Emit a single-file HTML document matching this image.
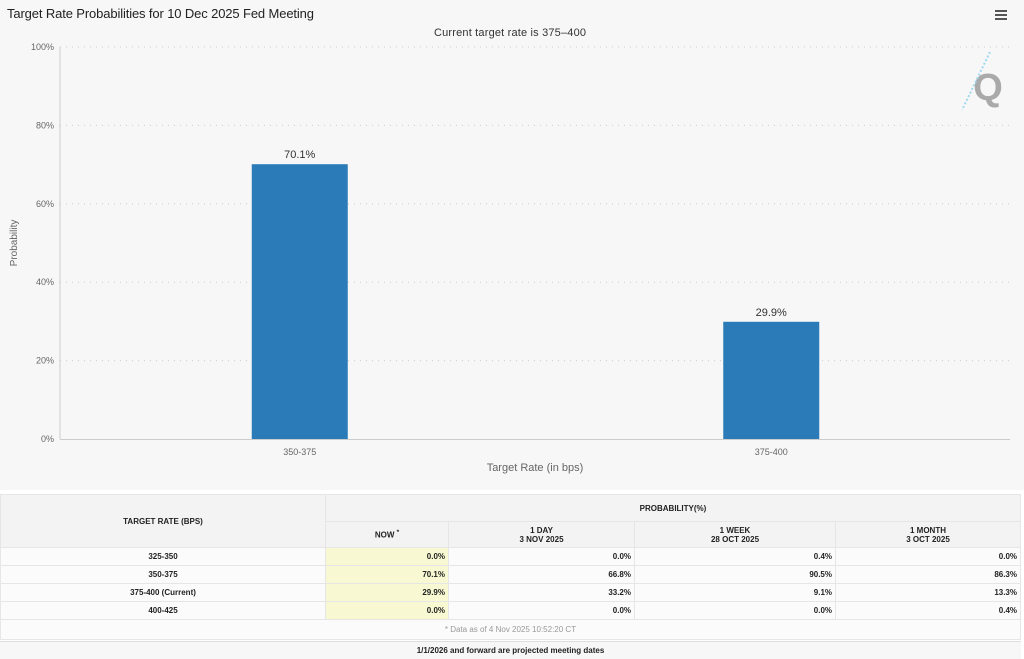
<!DOCTYPE html>
<html><head><meta charset="utf-8"><style>
body{margin:0;width:1024px;height:659px;background:#fff;font-family:"Liberation Sans",sans-serif;overflow:hidden;position:relative}
#chart{position:absolute;left:0;top:0;width:1024px;height:490px;background:#f7f7f7}
table{position:absolute;left:0;top:494px;width:1021px;border-collapse:collapse;font-size:8px;font-weight:bold;color:#222;background:#fbfbfb}
td{border:1px solid #e6e6e6;padding:0 3px;height:17px}
.hd{background:#f3f3f3;text-align:center}
.num{text-align:right}
.now{background:#f8f8d2}
.c{text-align:center}
#foot{position:absolute;left:0;top:641px;width:1021px;height:17px;line-height:17px;text-align:center;font-size:8px;font-weight:bold;color:#222;background:#f7f7f7;border-top:1px solid #ddd}
</style></head><body>
<svg id="chart" width="1024" height="490" xmlns="http://www.w3.org/2000/svg">
<rect width="1024" height="490" fill="#f7f7f7"/>
<text x="7" y="18" font-size="13" fill="#222" font-family="Liberation Sans" textLength="307">Target Rate Probabilities for 10 Dec 2025 Fed Meeting</text>
<text x="510" y="36" font-size="11" fill="#333" text-anchor="middle" font-family="Liberation Sans" textLength="152">Current target rate is 375–400</text>
<g><rect x="995" y="10" width="12" height="2" fill="#555"/><rect x="995" y="14" width="12" height="2" fill="#555"/><rect x="995" y="18" width="12" height="2" fill="#555"/></g>
<g><text x="988" y="100" font-size="38" fill="#aaa" text-anchor="middle" font-weight="bold" font-family="Liberation Sans">Q</text><line x1="990" y1="52" x2="962" y2="110" stroke="#9fd8ef" stroke-width="2" stroke-dasharray="2,2"/></g>
<g id="grid"></g><g id="bars"></g>
<line x1="60" y1="47" x2="60" y2="439" stroke="#ccc"/>
<line x1="60" y1="439.5" x2="1010" y2="439.5" stroke="#ccc"/>
<text x="17" y="243" font-size="10" fill="#666" text-anchor="middle" transform="rotate(-90 17 243)">Probability</text>
<text x="535" y="471" font-size="11" fill="#666" text-anchor="middle">Target Rate (in bps)</text>
</svg>
<table>
<tr><td class="hd" rowspan="2" style="width:318px;height:52px">TARGET RATE (BPS)</td><td class="hd" colspan="4" style="height:26px">PROBABILITY(%)</td></tr>
<tr><td class="hd" style="width:116px;height:25px">NOW <sup>*</sup></td><td class="hd" style="width:179px">1 DAY<br>3 NOV 2025</td><td class="hd" style="width:194px">1 WEEK<br>28 OCT 2025</td><td class="hd">1 MONTH<br>3 OCT 2025</td></tr>
<tr><td class="c">325-350</td><td class="num now">0.0%</td><td class="num">0.0%</td><td class="num">0.4%</td><td class="num">0.0%</td></tr>
<tr><td class="c">350-375</td><td class="num now">70.1%</td><td class="num">66.8%</td><td class="num">90.5%</td><td class="num">86.3%</td></tr>
<tr><td class="c">375-400 (Current)</td><td class="num now">29.9%</td><td class="num">33.2%</td><td class="num">9.1%</td><td class="num">13.3%</td></tr>
<tr><td class="c">400-425</td><td class="num now">0.0%</td><td class="num">0.0%</td><td class="num">0.0%</td><td class="num">0.4%</td></tr>
<tr><td colspan="5" class="c" style="font-weight:normal;color:#999;height:19px">* Data as of 4 Nov 2025 10:52:20 CT</td></tr>
</table>
<div id="foot">1/1/2026 and forward are projected meeting dates</div>
<script>
const categories=["350-375","375-400"];
const values=[70.1,29.9];
const yTicks=[0,20,40,60,80,100];
const NS="http://www.w3.org/2000/svg";
const L=60,R=1010,T=47,B=439;
const XL=64,XR=1007;
function y(v){return B-(v/100)*(B-T);}
function xc(i){return XL+(XR-XL)/categories.length*(i+0.5);}
function mk(t,a,p){const e=document.createElementNS(NS,t);for(const k in a)e.setAttribute(k,a[k]);p.appendChild(e);return e;}
const g=document.getElementById('grid'),b=document.getElementById('bars');
yTicks.forEach(t=>{
 if(t>0){const l=mk('line',{x1:L,x2:R,y1:y(t),y2:y(t),stroke:'#ccc','stroke-dasharray':'1,5'},g);
 
 }
 const tx=mk('text',{x:L-6,y:y(t)+3,'font-size':9,fill:'#666','text-anchor':'end'},g);tx.textContent=t+'%';
 
 
});
categories.forEach((c,i)=>{
 const r=mk('rect',{x:xc(i)-48,y:y(values[i]),width:96,height:B-y(values[i]),fill:'#2b7bb9'},b);
 
 
 const lb=mk('text',{x:xc(i),y:y(values[i])-6,'font-size':11,fill:'#333','text-anchor':'middle'},b);lb.textContent=values[i].toFixed(1)+'%';
 
 
 const xl=mk('text',{x:xc(i),y:455,'font-size':9,fill:'#666','text-anchor':'middle'},b);xl.textContent=c;
 
 
});
</script>
</body></html>
